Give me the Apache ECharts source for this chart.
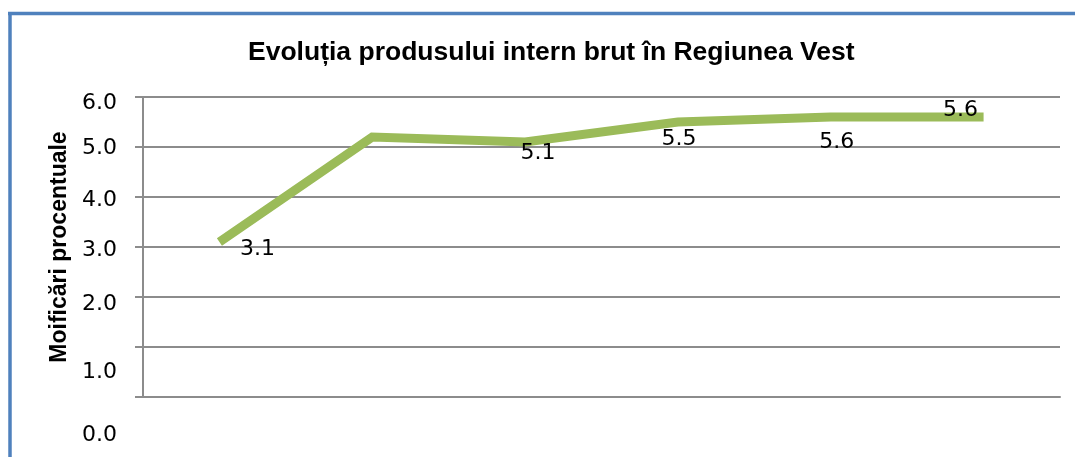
<!DOCTYPE html>
<html>
<head>
<meta charset="utf-8">
<script src="https://cdn.jsdelivr.net/npm/echarts@6/dist/echarts.min.js"></script>
<style>
  html, body { margin: 0; padding: 0; background: #fff; }
  #main { width: 1075px; height: 457px; }
</style>
</head>
<body>
<div id="main"></div>
<script>
var categories = ['1', '2', '3', '4', '5', '6'];
var values = [3.1, 5.2, 5.1, 5.5, 5.6, 5.6];
var showLabel = [true, false, true, true, true, true];
var labelOffsets = [[38, 7], [0, 0], [13, 11], [1, 17], [6, 25], [-23, -7]];
var tickShift = { 0: 38, 1: 25, 2: 7, 3: 3, 4: 3, 5: 1, 6: 6 };

var seriesData = values.map(function (v, i) {
    return {
        value: v,
        label: {
            show: showLabel[i],
            position: 'inside',
            offset: labelOffsets[i]
        }
    };
});

var richTicks = {};
Object.keys(tickShift).forEach(function (k) {
    richTicks['t' + k] = {
        fontFamily: 'DejaVu Sans',
        fontSize: 22,
        color: '#000',
        padding: [tickShift[k] * 2, 0, 0, 0]
    };
});

var option = {
    animation: false,
    title: {
        text: 'Evoluția produsului intern brut în Regiunea Vest',
        left: 243,
        top: 34,
        textStyle: {
            fontFamily: 'Liberation Sans',
            fontWeight: 'bold',
            fontSize: 26.5,
            color: '#000'
        }
    },
    graphic: [
        { type: 'line', shape: { x1: 10, y1: 13.5, x2: 10, y2: 457 }, style: { stroke: '#4F81BD', lineWidth: 3.5 } },
        { type: 'line', shape: { x1: 8, y1: 13.5, x2: 1075, y2: 13.5 }, style: { stroke: '#4F81BD', lineWidth: 3.5 } }
    ],
    grid: {
        left: 143,
        right: 15,
        top: 97,
        bottom: 60
    },
    xAxis: {
        type: 'category',
        data: categories,
        boundaryGap: true,
        axisLine: { lineStyle: { color: '#8c8c8c', width: 2 } },
        axisTick: { show: false },
        axisLabel: { show: false }
    },
    yAxis: {
        type: 'value',
        min: 0,
        max: 6,
        interval: 1,
        name: 'Moificări procentuale',
        nameLocation: 'middle',
        nameGap: 70,
        nameTextStyle: {
            fontFamily: 'Liberation Sans',
            fontWeight: 'bold',
            fontSize: 23,
            color: '#000'
        },
        axisLine: { show: true, lineStyle: { color: '#8c8c8c', width: 2 } },
        axisTick: { show: true, length: 8, lineStyle: { color: '#8c8c8c', width: 2 } },
        splitLine: { lineStyle: { color: '#8c8c8c', width: 2 } },
        axisLabel: {
            margin: 26,
            formatter: function (v) {
                return '{t' + v + '|' + v.toFixed(1) + '}';
            },
            rich: richTicks
        }
    },
    series: [
        {
            type: 'line',
            data: seriesData,
            symbol: 'circle',
            symbolSize: 0,
            showSymbol: true,
            itemStyle: { color: '#9BBB59' },
            lineStyle: { color: '#9BBB59', width: 9, cap: 'butt', join: 'miter' },
            label: {
                fontFamily: 'DejaVu Sans',
                fontSize: 22,
                color: '#000',
                formatter: function (p) { return p.value.toFixed(1); }
            },
            emphasis: { disabled: true }
        }
    ]
};

var chart = echarts.init(document.getElementById('main'));
chart.setOption(option);
</script>
</body>
</html>
